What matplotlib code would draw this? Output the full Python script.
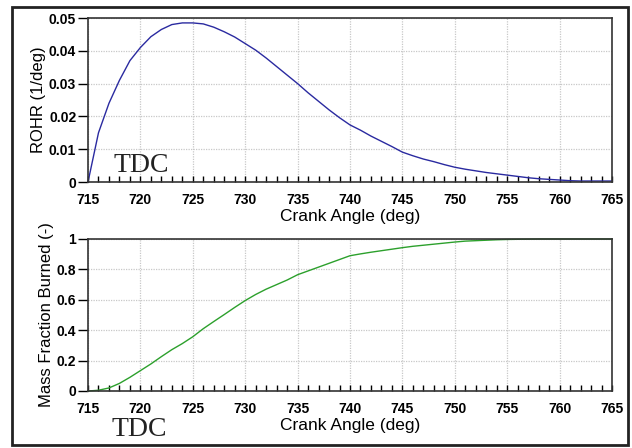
import matplotlib
matplotlib.use("Agg")
import matplotlib.pyplot as plt
from matplotlib.patches import Rectangle
from matplotlib.ticker import MultipleLocator

crank = list(range(715, 766))
rohr = [0.0, 0.015, 0.024, 0.031, 0.037, 0.041, 0.0443, 0.0465, 0.048, 0.0485,
        0.0485, 0.0482, 0.0472, 0.0458, 0.0442, 0.0422, 0.0402, 0.0378, 0.0352, 0.0326,
        0.0300, 0.0272, 0.0246, 0.0220, 0.0196, 0.0174, 0.0158, 0.0140, 0.0124, 0.0108,
        0.0091, 0.0080, 0.0070, 0.0062, 0.0053, 0.0045, 0.0039, 0.0034, 0.0029, 0.0025,
        0.0021, 0.0017, 0.0013, 0.0010, 0.0008, 0.0006, 0.0004, 0.0003, 0.0003, 0.0003,
        0.0003]
mfb = [0.0, 0.005, 0.02, 0.05, 0.09, 0.134, 0.178, 0.226, 0.272, 0.312,
       0.357, 0.41, 0.457, 0.503, 0.55, 0.595, 0.635, 0.67, 0.70, 0.73,
       0.765, 0.79, 0.815, 0.84, 0.865, 0.89, 0.902, 0.913, 0.923, 0.933,
       0.943, 0.952, 0.959, 0.966, 0.973, 0.98, 0.986, 0.989, 0.992, 0.995,
       0.997, 0.998, 0.999, 1.0, 1.0, 1.0, 1.0, 1.0, 1.0, 1.0, 1.0]
xticks = list(range(715, 766, 5))
rohr_ticks = [0, 0.01, 0.02, 0.03, 0.04, 0.05]
rohr_labels = ["0", "0.01", "0.02", "0.03", "0.04", "0.05"]
mfb_ticks = [0, 0.2, 0.4, 0.6, 0.8, 1.0]
mfb_labels = ["0", "0.2", "0.4", "0.6", "0.8", "1"]

W, H = 632, 448
fig = plt.figure(figsize=(W / 100, H / 100), dpi=100)
sans = "Liberation Sans"
serif = "Liberation Serif"

def make_ax(top, bottom):
    left, right = 88, 612
    ax = fig.add_axes([left / W, 1 - bottom / H, (right - left) / W, (bottom - top) / H])
    return ax

def style(ax, yt, yl, ylabel):
    ax.set_xlim(715, 765)
    ax.set_xticks(xticks)
    ax.set_xticklabels([str(t) for t in xticks], fontfamily=sans, fontweight="bold", fontsize=10)
    ax.xaxis.set_minor_locator(MultipleLocator(1))
    ax.tick_params(axis="x", which="both", direction="in", length=4, width=1, pad=8, top=False)
    ax.set_yticks(yt)
    ax.set_yticklabels(yl, fontfamily=sans, fontweight="bold", fontsize=10)
    ax.tick_params(axis="y", which="both", direction="out", length=7, width=1, pad=1.5, right=False)
    ax.grid(True, which="major", color="#c8c8c8", linestyle=(0, (1, 1)), linewidth=0.9)
    ax.set_axisbelow(True)
    for s in ax.spines.values():
        s.set_linewidth(1.2)
        s.set_color("#333333")
    ax.set_xlabel("Crank Angle (deg)", fontfamily=sans, fontsize=12.5, labelpad=1)
    ax.set_ylabel(ylabel, fontfamily=sans, fontsize=12, labelpad=2)

ax1 = make_ax(18, 182)
ax1.plot(crank, rohr, color="#2a2aa0", linewidth=1.0, clip_on=False)
ax1.set_ylim(0, 0.05)
style(ax1, rohr_ticks, rohr_labels, "ROHR (1/deg)")
fig.text(114 / W, 1 - 172 / H, "TDC", fontfamily=serif, fontsize=20, color="#222222", va="baseline")

ax2 = make_ax(239, 391)
ax2.plot(crank, mfb, color="#2ca02c", linewidth=1.0, clip_on=False)
ax2.set_ylim(0, 1)
style(ax2, mfb_ticks, mfb_labels, "Mass Fraction Burned (-)")
fig.text(111 / W, 1 - 436 / H, "TDC", fontfamily=serif, fontsize=20, color="#222222", va="baseline")

fig.patches.append(Rectangle((12 / W, 1 - 445 / H), (628 - 12) / W, (445 - 7) / H,
                             transform=fig.transFigure, fill=False,
                             edgecolor="#222222", linewidth=2))

fig.savefig("out.png", dpi=100)
